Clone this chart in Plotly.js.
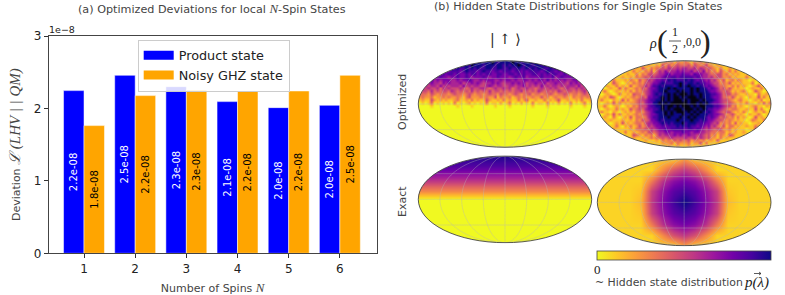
<!DOCTYPE html>
<html><head><meta charset="utf-8">
<script src="https://cdn.plot.ly/plotly-3.0.1.min.js"></script>
<style>html,body{margin:0;padding:0;background:#fff}</style></head>
<body><div id="chart" style="width:785px;height:295px"></div>
<script>
const spins=[1,2,3,4,5,6];
const productState=[2.246e-8,2.457e-8,2.30e-8,2.094e-8,2.011e-8,2.043e-8];
const noisyGhz=[1.763e-8,2.177e-8,2.255e-8,2.237e-8,2.241e-8,2.457e-8];
const yTickVals=[0,1e-8,2e-8,3e-8];
const yTickText=['0','1','2','3'];

// exact panels: map-plane rows, bottom to top
const bandY=[-1.02,-0.1,0,0.03,0.1,0.2,0.3,0.4,0.5,0.6,0.7,0.8,0.9,1.02];
const upExact=[0,0,0,0.04,0.14,0.28,0.40,0.52,0.62,0.72,0.80,0.87,0.92,0.97];
const mapX=[-2.04,-1.25,-1,-0.75,-0.5,-0.25,0,0.25,0.5,0.75,1,1.25,2.04];
const mapY=[-1.02,-0.75,-0.5,-0.25,0,0.25,0.5,0.75,1.02];
const rhoExact=[
[.09,.09,.09,.09,.09,.09,.22,.09,.09,.09,.09,.09,.09],
[.09,.09,.09,.09,.28,.46,.56,.46,.28,.09,.09,.09,.09],
[.09,.09,.09,.33,.58,.72,.78,.72,.58,.33,.09,.09,.09],
[.09,.09,.12,.52,.70,.84,.90,.84,.70,.52,.12,.09,.09],
[.09,.09,.15,.55,.74,.90,1.0,.90,.74,.55,.15,.09,.09],
[.09,.09,.12,.52,.70,.84,.90,.84,.70,.52,.12,.09,.09],
[.09,.09,.09,.33,.58,.72,.78,.72,.58,.33,.09,.09,.09],
[.09,.09,.09,.09,.28,.46,.56,.46,.28,.09,.09,.09,.09],
[.09,.09,.09,.09,.09,.09,.22,.09,.09,.09,.09,.09,.09]];

// optimized panels: levels 0-9 estimated cell by cell, top row first
const upOptimizedRows=[
"8888888888 8888888888 8888898788 8898878888 8888888888 8888888888",
"8888888888 8878888798 8878887887 8788987887 8878887888 8888888888",
"8888888787 8878778787 8778877887 7877877878 7887787878 7888888888",
"7787677877 6777678777 6787767767 7767767677 7767877676 7778777787",
"7676776676 7767667677 6767766776 6776767667 7676767766 7676776767",
"6767666766 5667667656 6676566766 6567667566 6676667567 6667666566",
"6566756566 6556566765 5656665565 6656556656 5665756565 6556656565",
"5565655465 6555645565 6545565654 5565656455 6556455655 5465655556",
"5454554645 4555464545 5445654554 4554556454 5464545545 4555464554",
"4545445354 5444543454 4554345445 4534544544 3454454543 4544545434",
"3443534344 3543434353 4343534434 3434453434 3543434354 3443434534",
"3332432333 2343323432 3323433243 3234323342 3323343233 4323323432",
"2322312232 3223213422 2323224132 2312323223 2242312322 3213223232",
"1211421212 1123112131 2114211213 1211312411 2113121241 1211213112",
"0101301010 1030101201 0103011020 1301020103 0110301020 1030101301",
"0000100000 0001000010 0000001000 0100000001 0000100000 0010000100",
"0000000000 0000000000 0000000000 0000000000 0000000000 0000000000",
"0000000000 0000000000 0000000000 0000000000 0000000000 0000000000",
"0000000000 0000000000 0000000000 0000000000 0000000000 0000000000",
"0000000000 0000000000 0000000000 0000000000 0000000000 0000000000",
"0000000000 0000000000 0000000000 0000000000 0000000000 0000000000",
"0000000000 0000000000 0000000000 0000000000 0000000000 0000000000",
"0000000000 0000000000 0000000000 0000000000 0000000000 0000000000",
"0000000000 0000000000 0000000000 0000000000 0000000000 0000000000",
"0000000000 0000000000 0000000000 0000000000 0000000000 0000000000",
"0000000000 0000000000 0000000000 0000000000 0000000000 0000000000",
"0000000000 0000000000 0000000000 0000000000 0000000000 0000000000",
"0000000000 0000000000 0000000000 0000000000 0000000000 0000000000",
"0000000000 0000000000 0000000000 0000000000 0000000000 0000000000",
"0000000000 0000000000 0000000000 0000000000 0000000000 0000000000"];
const rhoOptimizedRows=[
"1111111111 1111111111 1123231322 3213231321 1111111111 1111111111",
"1111111111 1111111211 2142423433 3424323422 1211111111 1111111111",
"1111111111 1112142132 3343544545 5445354343 2131121111 1111111111",
"1111111111 1131213241 3546455656 5564546342 3142131311 1111111111",
"1111111011 2113132443 4556756667 6657665543 3442312121 1111111111",
"1101011121 1213234354 5567677677 7776765545 3442231211 1311101111",
"1011131112 1321423545 6676878777 8787676564 5324123132 1101101111",
"1110142101 2132324456 6787778898 7887877665 4423241212 1113011011",
"1012113121 1412335467 7878887898 8988787676 5433213131 2101241101",
"1101211413 2123243566 7888989888 8898988767 6534242121 1012113101",
"1131012112 1313234567 7889888989 8898988876 6543431212 3101421011",
"1012101311 2143324567 8788989899 9898898887 7653442321 1211031121",
"1121431012 1232343667 7898989989 8999898887 6653324212 1021141311",
"1311021141 3123445677 8898989998 9899989888 7654432123 1101213011",
"1012141312 1223435668 8989899999 9899898987 6654343212 1311021413",
"1131012101 2132444677 8898998989 9989899888 7765442312 1012311021",
"1012113121 1423435667 7898989998 9998989877 6654323321 1211413101",
"1311021012 1213324567 8889898999 8989898787 6543442121 3101211311",
"1012141311 2123234566 7889898889 8898988877 6654234212 1021131011",
"1121031012 1413323567 7888988898 8989888767 6534323131 2101412111",
"1011211121 1213243466 7878888988 8898878766 5443232121 1013211311",
"1131012141 2123324556 6787878889 7888777665 4523231412 1101121011",
"1101113102 1312423545 6676777878 7877676564 5324133121 1211311101",
"1011021111 1213334354 5667677777 6776765454 3442231211 1011411111",
"1111101113 1121232443 4556656667 6656655443 3233121211 2101111111",
"1111111101 1143213231 3545556565 5655454342 3132143111 1111111111",
"1111111111 1121121232 3343454444 5445354342 2131211111 1111111111",
"1111111111 1111112111 2132324343 3423323122 1411111111 1111111111",
"1111111111 1111111111 1122231322 2312241311 1111111111 1111111111",
"1111111111 1111111111 1111211211 1211111111 1111111111 1111111111"];
const cellX=[-1.967,-1.9,-1.833,-1.767,-1.7,-1.633,-1.567,-1.5,-1.433,-1.367,-1.3,-1.233,-1.167,-1.1,-1.033,-.967,-.9,-.833,-.767,-.7,-.633,-.567,-.5,-.433,-.367,-.3,-.233,-.167,-.1,-.033,.033,.1,.167,.233,.3,.367,.433,.5,.567,.633,.7,.767,.833,.9,.967,1.033,1.1,1.167,1.233,1.3,1.367,1.433,1.5,1.567,1.633,1.7,1.767,1.833,1.9,1.967];
const cellY=[.967,.9,.833,.767,.7,.633,.567,.5,.433,.367,.3,.233,.167,.1,.033,-.033,-.1,-.167,-.233,-.3,-.367,-.433,-.5,-.567,-.633,-.7,-.767,-.833,-.9,-.967];

const plasmaR=[[0,'#f0f921'],[.11,'#fdca26'],[.22,'#fb9f3a'],[.33,'#ed7953'],[.44,'#d8576b'],[.56,'#bd3786'],[.67,'#9c179e'],[.78,'#7201a8'],[.89,'#46039f'],[1,'#0d0887']];
const grainScale=['#f0f921','#fdc527','#f89540','#e66c5c','#cc4778','#aa2395','#7e03a8','#4c02a1','#0d0887','#05030f'].map((c,i)=>[i/9,c]);
const parseRows=rows=>rows.map(r=>r.replace(/ /g,'').split('').map(Number));

const W=785,H=295,pad=0.04;
const panels=[
 {box:[418.3,60.7,591.7,147.3],x:cellX,y:cellY,z:parseRows(upOptimizedRows),grain:true},
 {box:[597.3,60.7,771,147.3],x:cellX,y:cellY,z:parseRows(rhoOptimizedRows),grain:true},
 {box:[418.3,156,591.7,242.7],x:[-2.04,2.04],y:bandY,z:upExact.map(v=>[v,v])},
 {box:[597.3,159,771,245.7],x:mapX,y:mapY,z:rhoExact}];

const data=[
 {type:'bar',x:spins,y:productState,name:'Product state',showlegend:false,marker:{color:'#0000ff',line:{color:'#fff',width:.5}},
  text:productState.map(v=>v.toExponential(1).replace('e-8','e-08')),textposition:'inside',insidetextanchor:'middle',textangle:-90,constraintext:'none',textfont:{family:'DejaVu Sans',size:10,color:'#fff'},hoverinfo:'skip'},
 {type:'bar',x:spins,y:noisyGhz,name:'Noisy GHZ state',showlegend:false,marker:{color:'#ffa500',line:{color:'#fff',width:.5}},
  text:noisyGhz.map(v=>v.toExponential(1).replace('e-8','e-08')),textposition:'inside',insidetextanchor:'middle',textangle:-90,constraintext:'none',textfont:{family:'DejaVu Sans',size:10,color:'#000'},hoverinfo:'skip'},
 {type:'scatter',mode:'lines',x:[null],y:[null],name:'Product state',line:{color:'#0000ff',width:9}},
 {type:'scatter',mode:'lines',x:[null],y:[null],name:'Noisy GHZ state',line:{color:'#ffa500',width:9}}
];
const serif="font-family:'Liberation Serif';font-style:italic";
const layout={width:W,height:H,autosize:false,margin:{l:0,r:0,t:0,b:0},paper_bgcolor:'#fff',plot_bgcolor:'#fff',
 font:{family:'DejaVu Sans',color:'#222'},barmode:'group',bargap:.2,bargroupgap:0,showlegend:true,
 legend:{x:137.7/W,y:1-39.5/H,xanchor:'left',yanchor:'top',bgcolor:'rgba(255,255,255,.85)',bordercolor:'#ccc',borderwidth:1,font:{size:12.8,family:'DejaVu Sans',color:'#222'},itemwidth:30,tracegroupgap:0},
 xaxis:{domain:[48.7/W,376.7/W],range:[.31,6.72],tickvals:spins,ticks:'outside',ticklen:4,tickcolor:'#333',tickfont:{size:12},showgrid:false,zeroline:false,showline:true,linecolor:'#444',linewidth:1,mirror:true,anchor:'y',
  title:{text:`Number of Spins <span style="${serif};font-size:13px">N</span>`,font:{size:11,color:'#444'},standoff:10}},
 yaxis:{domain:[1-253.3/H,1-36/H],range:[0,3e-8],tickvals:yTickVals,ticktext:yTickText,ticks:'outside',ticklen:4,tickcolor:'#333',tickfont:{size:12},showgrid:false,zeroline:false,showline:true,linecolor:'#444',linewidth:1,mirror:true,anchor:'x',
  title:{text:`Deviation <span style="${serif};font-size:15px">ℒ (LHV | | QM)</span>`,font:{size:11,color:'#444'},standoff:10}},
 shapes:[],
 annotations:[
  {text:`(a) Optimized Deviations for local <span style="${serif};font-size:13px">N</span>-Spin States`,x:212/W,y:1-8/H,font:{size:11.2,color:'#444'}},
  {text:'(b) Hidden State Distributions for Single Spin States',x:578/W,y:1-7/H,font:{size:11.1,color:'#444'}},
  {text:'1e−8',x:62/W,y:1-29.5/H,font:{size:9.5}},
  {text:'Optimized',x:402/W,y:1-102/H,textangle:-90,font:{size:11,color:'#444'}},
  {text:'Exact',x:402/W,y:1-202/H,textangle:-90,font:{size:11,color:'#444'}},
  {text:'| ↑ ⟩',x:505/W,y:1-40/H,font:{size:14,family:'DejaVu Serif',color:'#222'}},
  {text:'<i>ρ</i>',x:653/W,y:1-44/H,font:{size:14,family:'Liberation Serif',color:'#222'}},
  {text:'(',x:662/W,y:1-41/H,font:{size:32,family:'Liberation Serif',color:'#222'}},
  {text:'1',x:675/W,y:1-32/H,font:{size:12,family:'Liberation Serif',color:'#222'}},
  {text:'2',x:675/W,y:1-49/H,font:{size:12,family:'Liberation Serif',color:'#222'}},
  {text:',0,0',x:692/W,y:1-42/H,font:{size:12,family:'Liberation Serif',color:'#222'}},
  {text:')',x:705/W,y:1-41/H,font:{size:32,family:'Liberation Serif',color:'#222'}},
  {text:'~ Hidden state distribution',x:593/W,y:1-282/H,xanchor:'left',font:{size:10.9,color:'#444'}},
  {text:`<span style="${serif}">p(λ)</span>`,x:742/W,y:1-282/H,xanchor:'left',font:{size:15,family:'Liberation Serif',color:'#222'}}
 ].map(a=>Object.assign({xref:'paper',yref:'paper',showarrow:false,xanchor:'center',yanchor:'middle'},a))
};
layout.shapes.push({type:'line',xref:'paper',yref:'paper',x0:669/W,x1:681/W,y0:1-41/H,y1:1-41/H,line:{color:'#333',width:.8}});
const pt=(x,y)=>`${x/W} ${1-y/H}`;
layout.shapes.push({type:'path',xref:'paper',yref:'paper',path:`M${pt(754,273.5)}L${pt(761,273.5)}M${pt(759,272)}L${pt(761,273.5)}L${pt(759,275)}`,line:{color:'#333',width:.8}});

panels.forEach((p,i)=>{
 const n=i+2,[x0,y0,x1,y1]=p.box;
 const sx=(x1-x0)/4,sy=(y1-y0)/2,px=pad*sx,py=pad/2*sy;
 layout['xaxis'+n]={domain:[(x0-px)/W,(x1+px)/W],range:[-2-pad,2+pad],visible:false,fixedrange:true,anchor:'y'+n};
 layout['yaxis'+n]={domain:[1-(y1+py)/H,1-(y0-py)/H],range:[-1-pad/2,1+pad/2],visible:false,fixedrange:true,anchor:'x'+n};
 const g='geo'+(i?i+1:'');
 layout[g]={domain:{x:[x0/W,x1/W],y:[1-y1/H,1-y0/H]},projection:{type:'mollweide'},bgcolor:'rgba(0,0,0,0)',
  showland:false,showocean:false,showlakes:false,showrivers:false,showcountries:false,showcoastlines:false,showsubunits:false,showframe:false,
  lonaxis:{showgrid:true,dtick:45,gridcolor:'rgba(185,185,185,.55)',gridwidth:.7,range:[-180,180]},
  lataxis:{showgrid:true,dtick:45,gridcolor:'rgba(185,185,185,.55)',gridwidth:.7,range:[-90,90]}};
 const tr=p.grain
  ?{type:'heatmap',x:p.x,y:p.y,z:p.z,zmin:0,zmax:9,zsmooth:'best',colorscale:grainScale,showscale:false,xaxis:'x'+n,yaxis:'y'+n,hoverinfo:'skip'}
  :{type:'heatmap',x:p.x,y:p.y,z:p.z,zmin:0,zmax:1,zsmooth:'best',colorscale:plasmaR,showscale:false,xaxis:'x'+n,yaxis:'y'+n,hoverinfo:'skip'};
 if(i===3){tr.showscale=true;tr.colorbar={orientation:'h',lenmode:'pixels',len:173.7,thickness:9,thicknessmode:'pixels',x:597.3/W,xanchor:'left',y:1-250.7/H,yanchor:'top',xpad:0,ypad:0,tickvals:[0],ticktext:['0'],ticks:'',tickfont:{family:'DejaVu Serif',size:11,color:'#222'},outlinecolor:'#444',outlinewidth:.8};}
 data.unshift(tr);
 data.push({type:'scattergeo',geo:g,lon:[0],lat:[0],mode:'markers',marker:{size:1,opacity:0},showlegend:false,hoverinfo:'skip'});
 const fx=v=>((x0+x1)/2+v*sx)/W, fy=v=>1-((y0+y1)/2-v*sy)/H;
 const k=.5523,X=2,Y=1;
 const ell=[['M',-X,0],['C',-X,k*Y,-k*X,Y,0,Y],['C',k*X,Y,X,k*Y,X,0],['C',X,-k*Y,k*X,-Y,0,-Y],['C',-k*X,-Y,-X,-k*Y,-X,0]]
  .map(s=>s[0]+s.slice(1).map((v,j)=>j%2?fy(v):fx(v)).join(' ')).join('')+'Z';
 const rx=[x0-2.6,x1+2.6],ry=[y0-2.6,y1+2.6];
 const rect=`M${rx[0]/W} ${1-ry[0]/H}L${rx[1]/W} ${1-ry[0]/H}L${rx[1]/W} ${1-ry[1]/H}L${rx[0]/W} ${1-ry[1]/H}Z`;
 layout.shapes.push({type:'path',xref:'paper',yref:'paper',path:rect+ell,fillrule:'evenodd',fillcolor:'#fff',line:{width:0},layer:'above'});
 layout.shapes.push({type:'circle',xref:'x'+n,yref:'y'+n,x0:-2,x1:2,y0:-1,y1:1,line:{color:'#333',width:.8},fillcolor:'rgba(0,0,0,0)',layer:'above'});
});
Plotly.newPlot('chart',data,layout,{displayModeBar:false,staticPlot:true});
</script></body></html>
